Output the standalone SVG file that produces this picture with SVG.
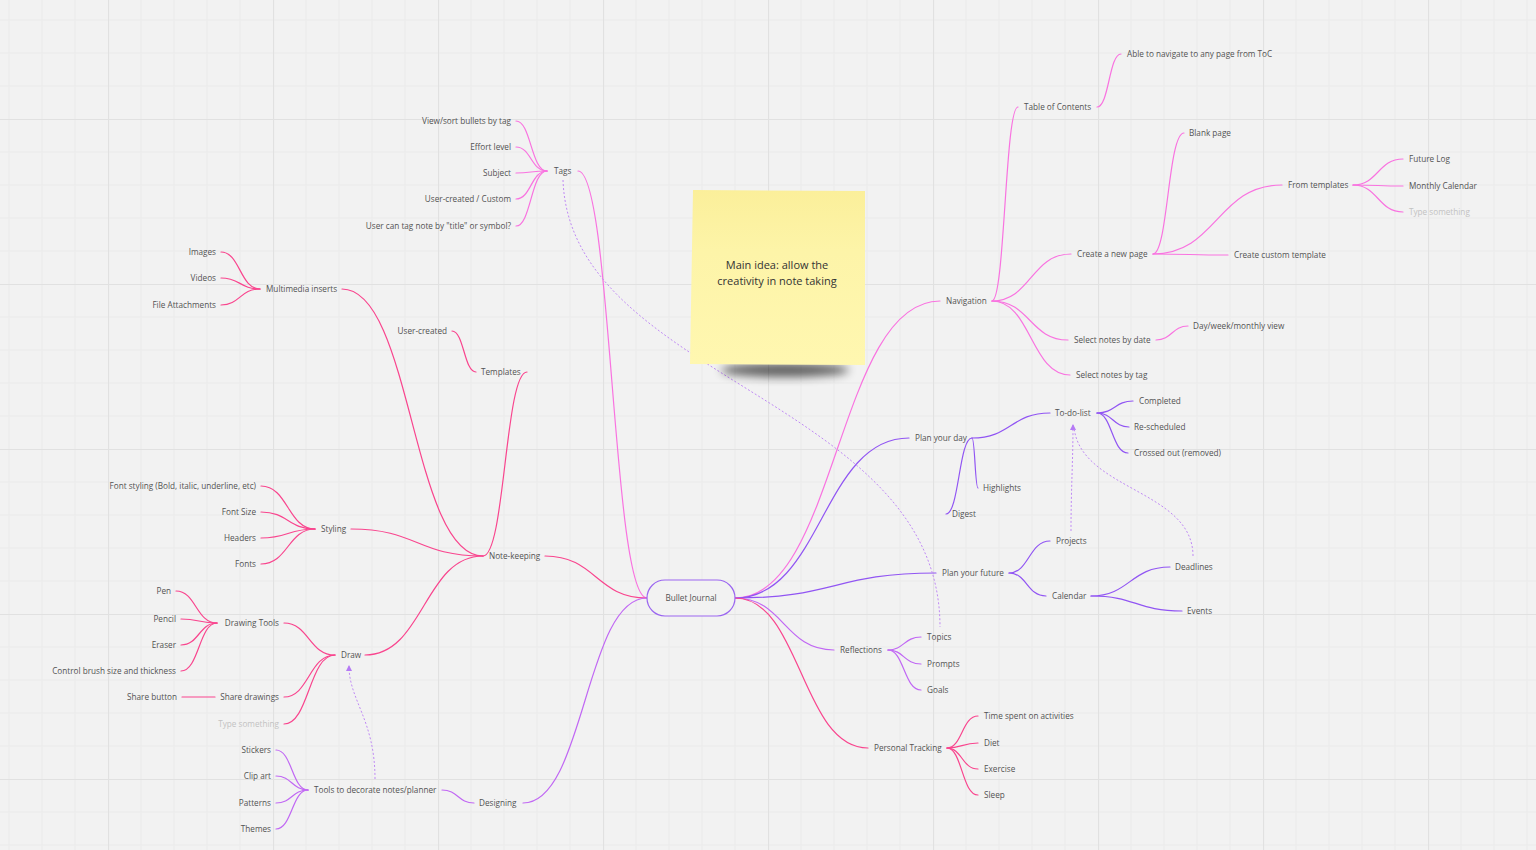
<svg xmlns="http://www.w3.org/2000/svg" width="1536" height="850" viewBox="0 0 1536 850">
<defs>
<pattern id="grid" patternUnits="userSpaceOnUse" x="108" y="119" width="165" height="165">
<path d="M33,0V165M66,0V165M99,0V165M132,0V165M0,33H165M0,66H165M0,99H165M0,132H165" stroke="#eaeaea" stroke-width="1" fill="none"/>
<path d="M0.5,0V165M0,0.5H165" stroke="#e1e1e1" stroke-width="1.2" fill="none"/>
</pattern>
<linearGradient id="sticky" x1="0" y1="0" x2="0" y2="1">
<stop offset="0" stop-color="#fbef9a"/>
<stop offset="0.35" stop-color="#fdf4a8"/>
<stop offset="1" stop-color="#fff7b0"/>
</linearGradient>
<filter id="blur" x="-50%" y="-200%" width="200%" height="500%">
<feGaussianBlur stdDeviation="5"/>
</filter>
<marker id="arr" viewBox="0 0 6 6" refX="5" refY="3" markerWidth="6" markerHeight="6" orient="auto-start-reverse" markerUnits="userSpaceOnUse">
<path d="M0,0L6,3L0,6Z" fill="#b57af5"/>
</marker>
<style>
.t{font-family:"Open Sans","Liberation Sans",sans-serif;font-size:8.2px;fill:#525252}
.e{text-anchor:end}
.ph{fill:#c2c2c2}
.c{fill:none;stroke-width:1.2;stroke-linecap:round}
.pk{stroke:#f973e0}
.rs{stroke:#f9458e}
.pu{stroke:#9155f3}
.lp{stroke:#c168f4}
.dot{fill:none;stroke:#c08af5;stroke-width:1;stroke-dasharray:2 2}
.st{font-family:"Open Sans","Liberation Sans",sans-serif;font-size:11px;fill:#333;text-anchor:middle}
</style>
</defs>
<rect width="1536" height="850" fill="#f2f2f2"/>
<rect width="1536" height="850" fill="url(#grid)"/>

<g id="connectors">
<!-- Tags -->
<path class="c pk" d="M647,598 C612,598 612,171 578,171"/>
<path class="c pk" d="M547,171 C531,171 531,121 516,121"/>
<path class="c pk" d="M547,171 C531,171 531,147 516,147"/>
<path class="c pk" d="M547,171 C531,171 531,173 516,173"/>
<path class="c pk" d="M547,171 C531,171 531,199 516,199"/>
<path class="c pk" d="M547,171 C531,171 531,226 516,226"/>
<!-- Note-keeping -->
<path class="c rs" d="M647,598 C596,598 596,556 545,556"/>
<path class="c rs" d="M483,556 C412,556 412,289 342,289"/>
<path class="c rs" d="M483,556 C505,556 505,372 527,372"/>
<path class="c rs" d="M483,556 C417,556 417,529 351,529"/>
<path class="c rs" d="M483,556 C424,556 424,655 365,655"/>
<path class="c rs" d="M260,289 C240,289 240,252 221,252"/>
<path class="c rs" d="M260,289 C240,289 240,278 221,278"/>
<path class="c rs" d="M260,289 C240,289 240,305 221,305"/>
<path class="c rs" d="M476,372 C464,372 464,331 452,331"/>
<path class="c rs" d="M315,529 C288,529 288,486 261,486"/>
<path class="c rs" d="M315,529 C288,529 288,512 261,512"/>
<path class="c rs" d="M315,529 C288,529 288,538 261,538"/>
<path class="c rs" d="M315,529 C288,529 288,564 261,564"/>
<path class="c rs" d="M335,655 C309,655 309,623 284,623"/>
<path class="c rs" d="M335,655 C309,655 309,697 284,697"/>
<path class="c rs" d="M335,655 C309,655 309,724 284,724"/>
<path class="c rs" d="M217,623 C196,623 196,591 176,591"/>
<path class="c rs" d="M217,623 C199,623 199,619 181,619"/>
<path class="c rs" d="M217,623 C199,623 199,645 181,645"/>
<path class="c rs" d="M217,623 C199,623 199,671 181,671"/>
<path class="c rs" d="M215,697 L182,697"/>
<!-- Designing -->
<path class="c lp" d="M647,598 C585,598 585,803 523,803"/>
<path class="c lp" d="M474,803 C458,803 458,790 442,790"/>
<path class="c lp" d="M308,790 C292,790 292,750 276,750"/>
<path class="c lp" d="M308,790 C292,790 292,776 276,776"/>
<path class="c lp" d="M308,790 C292,790 292,803 276,803"/>
<path class="c lp" d="M308,790 C292,790 292,829 276,829"/>
<!-- Navigation -->
<path class="c pk" d="M735,598 C837,598 837,301 940,301"/>
<path class="c pk" d="M992,301 C1005,301 1005,107 1018,107"/>
<path class="c pk" d="M992,301 C1031,301 1031,254 1071,254"/>
<path class="c pk" d="M992,301 C1030,301 1030,340 1068,340"/>
<path class="c pk" d="M992,301 C1031,301 1031,375 1070,375"/>
<path class="c pk" d="M1097,107 C1109,107 1109,54 1121,54"/>
<path class="c pk" d="M1153,254 C1168,254 1168,133 1184,133"/>
<path class="c pk" d="M1153,254 C1217,254 1217,185 1282,185"/>
<path class="c pk" d="M1153,254 C1190,254 1190,255 1228,255"/>
<path class="c pk" d="M1353,185 C1378,185 1378,159 1403,159"/>
<path class="c pk" d="M1353,185 C1378,185 1378,186 1403,186"/>
<path class="c pk" d="M1353,185 C1378,185 1378,212 1403,212"/>
<path class="c pk" d="M1156,340 C1172,340 1172,326 1188,326"/>
<!-- Plan your day -->
<path class="c pu" d="M735,598 C822,598 822,438 909,438"/>
<path class="c pu" d="M972,438 C1011,438 1011,413 1050,413"/>
<path class="c pu" d="M972,438 C975,438 975,488 978,488"/>
<path class="c pu" d="M972,438 C959,438 959,514 946,514"/>
<path class="c pu" d="M1097,413 C1115,413 1115,401 1133,401"/>
<path class="c pu" d="M1097,413 C1113,413 1113,427 1129,427"/>
<path class="c pu" d="M1097,413 C1112,413 1112,453 1128,453"/>
<!-- Plan your future -->
<path class="c pu" d="M735,598 C835,598 835,573 936,573"/>
<path class="c pu" d="M1009,573 C1029,573 1029,541 1050,541"/>
<path class="c pu" d="M1009,573 C1027,573 1027,596 1046,596"/>
<path class="c pu" d="M1091,596 C1130,596 1130,567 1170,567"/>
<path class="c pu" d="M1091,596 C1136,596 1136,611 1182,611"/>
<!-- Reflections -->
<path class="c lp" d="M735,598 C784,598 784,650 834,650"/>
<path class="c lp" d="M888,650 C904,650 904,637 921,637"/>
<path class="c lp" d="M888,650 C904,650 904,664 921,664"/>
<path class="c lp" d="M888,650 C904,650 904,690 921,690"/>
<!-- Personal Tracking -->
<path class="c rs" d="M735,598 C801,598 801,748 868,748"/>
<path class="c rs" d="M947,748 C962,748 962,716 978,716"/>
<path class="c rs" d="M947,748 C962,748 962,743 978,743"/>
<path class="c rs" d="M947,748 C962,748 962,769 978,769"/>
<path class="c rs" d="M947,748 C962,748 962,795 978,795"/>
<!-- dotted relations -->
<path class="dot" d="M563,180 C570,380 940,400 940,627"/>
<path class="dot" d="M375,779 C375,720 349,700 349,666" marker-end="url(#arr)"/>
<path class="dot" d="M1071,531 C1071,490 1073,460 1073,425" marker-end="url(#arr)"/>
<path class="dot" d="M1193,556 C1193,490 1080,490 1074,427"/>
</g>

<g id="sticky-note">
<ellipse cx="785" cy="370" rx="64" ry="7" fill="#000" opacity="0.6" filter="url(#blur)"/>
<path d="M693,190 L865,191 L865,365 L690,364 Z" fill="url(#sticky)"/>
<text class="st" x="777" y="269">Main idea: allow the</text>
<text class="st" x="777" y="285">creativity in note taking</text>
</g>

<g id="n-bullet-journal">
<rect x="647" y="580" width="88" height="36" rx="18" fill="#f2f2f2" stroke="#9b66f0" stroke-width="1.2"/>
<text class="t" x="691" y="600.8" text-anchor="middle">Bullet Journal</text>
</g>

<g id="n-tags"><text class="t" x="554" y="173.8">Tags</text></g>
<g id="n-tag-view"><text class="t e" x="511" y="123.8">View/sort bullets by tag</text></g>
<g id="n-tag-effort"><text class="t e" x="511" y="149.8">Effort level</text></g>
<g id="n-tag-subject"><text class="t e" x="511" y="175.8">Subject</text></g>
<g id="n-tag-user"><text class="t e" x="511" y="201.8">User-created / Custom</text></g>
<g id="n-tag-title"><text class="t e" x="511" y="228.8">User can tag note by "title" or symbol?</text></g>

<g id="n-multimedia"><text class="t" x="266" y="291.8">Multimedia inserts</text></g>
<g id="n-images"><text class="t e" x="216" y="254.8">Images</text></g>
<g id="n-videos"><text class="t e" x="216" y="280.8">Videos</text></g>
<g id="n-files"><text class="t e" x="216" y="307.8">File Attachments</text></g>
<g id="n-user-created"><text class="t e" x="447" y="333.8">User-created</text></g>
<g id="n-templates"><text class="t" x="481" y="374.8">Templates</text></g>
<g id="n-note-keeping"><text class="t" x="489" y="558.8">Note-keeping</text></g>
<g id="n-styling"><text class="t" x="321" y="531.8">Styling</text></g>
<g id="n-font-styling"><text class="t e" x="256" y="488.8">Font styling (Bold, italic, underline, etc)</text></g>
<g id="n-font-size"><text class="t e" x="256" y="514.8">Font Size</text></g>
<g id="n-headers"><text class="t e" x="256" y="540.8">Headers</text></g>
<g id="n-fonts"><text class="t e" x="256" y="566.8">Fonts</text></g>
<g id="n-draw"><text class="t" x="341" y="657.8">Draw</text></g>
<g id="n-drawing-tools"><text class="t e" x="279" y="625.8">Drawing Tools</text></g>
<g id="n-share-drawings"><text class="t e" x="279" y="699.8">Share drawings</text></g>
<g id="n-draw-type"><text class="t e ph" x="279" y="726.8">Type something</text></g>
<g id="n-pen"><text class="t e" x="171" y="593.8">Pen</text></g>
<g id="n-pencil"><text class="t e" x="176" y="621.8">Pencil</text></g>
<g id="n-eraser"><text class="t e" x="176" y="647.8">Eraser</text></g>
<g id="n-brush"><text class="t e" x="176" y="673.8">Control brush size and thickness</text></g>
<g id="n-share-button"><text class="t e" x="177" y="699.8">Share button</text></g>
<g id="n-designing"><text class="t" x="479" y="805.8">Designing</text></g>
<g id="n-tools-decorate"><text class="t" x="314" y="792.8">Tools to decorate notes/planner</text></g>
<g id="n-stickers"><text class="t e" x="271" y="752.8">Stickers</text></g>
<g id="n-clipart"><text class="t e" x="271" y="778.8">Clip art</text></g>
<g id="n-patterns"><text class="t e" x="271" y="805.8">Patterns</text></g>
<g id="n-themes"><text class="t e" x="271" y="831.8">Themes</text></g>

<g id="n-navigation"><text class="t" x="946" y="303.8">Navigation</text></g>
<g id="n-toc"><text class="t" x="1024" y="109.8">Table of Contents</text></g>
<g id="n-toc-nav"><text class="t" x="1127" y="56.8">Able to navigate to any page from ToC</text></g>
<g id="n-create-page"><text class="t" x="1077" y="256.8">Create a new page</text></g>
<g id="n-blank"><text class="t" x="1189" y="135.8">Blank page</text></g>
<g id="n-from-templates"><text class="t" x="1288" y="187.8">From templates</text></g>
<g id="n-future-log"><text class="t" x="1409" y="161.8">Future Log</text></g>
<g id="n-monthly"><text class="t" x="1409" y="188.8">Monthly Calendar</text></g>
<g id="n-tpl-type"><text class="t ph" x="1409" y="214.8">Type something</text></g>
<g id="n-custom-template"><text class="t" x="1234" y="257.8">Create custom template</text></g>
<g id="n-by-date"><text class="t" x="1074" y="342.8">Select notes by date</text></g>
<g id="n-dwm"><text class="t" x="1193" y="328.8">Day/week/monthly view</text></g>
<g id="n-by-tag"><text class="t" x="1076" y="377.8">Select notes by tag</text></g>

<g id="n-plan-day"><text class="t" x="915" y="440.8">Plan your day</text></g>
<g id="n-todo"><text class="t" x="1055" y="415.8">To-do-list</text></g>
<g id="n-completed"><text class="t" x="1139" y="403.8">Completed</text></g>
<g id="n-rescheduled"><text class="t" x="1134" y="429.8">Re-scheduled</text></g>
<g id="n-crossed"><text class="t" x="1134" y="455.8">Crossed out (removed)</text></g>
<g id="n-highlights"><text class="t" x="983" y="490.8">Highlights</text></g>
<g id="n-digest"><text class="t" x="952" y="516.8">Digest</text></g>

<g id="n-plan-future"><text class="t" x="942" y="575.8">Plan your future</text></g>
<g id="n-projects"><text class="t" x="1056" y="543.8">Projects</text></g>
<g id="n-calendar"><text class="t" x="1052" y="598.8">Calendar</text></g>
<g id="n-deadlines"><text class="t" x="1175" y="569.8">Deadlines</text></g>
<g id="n-events"><text class="t" x="1187" y="613.8">Events</text></g>

<g id="n-reflections"><text class="t" x="840" y="652.8">Reflections</text></g>
<g id="n-topics"><text class="t" x="927" y="639.8">Topics</text></g>
<g id="n-prompts"><text class="t" x="927" y="666.8">Prompts</text></g>
<g id="n-goals"><text class="t" x="927" y="692.8">Goals</text></g>

<g id="n-personal"><text class="t" x="874" y="750.8">Personal Tracking</text></g>
<g id="n-time"><text class="t" x="984" y="718.8">Time spent on activities</text></g>
<g id="n-diet"><text class="t" x="984" y="745.8">Diet</text></g>
<g id="n-exercise"><text class="t" x="984" y="771.8">Exercise</text></g>
<g id="n-sleep"><text class="t" x="984" y="797.8">Sleep</text></g>
</svg>
